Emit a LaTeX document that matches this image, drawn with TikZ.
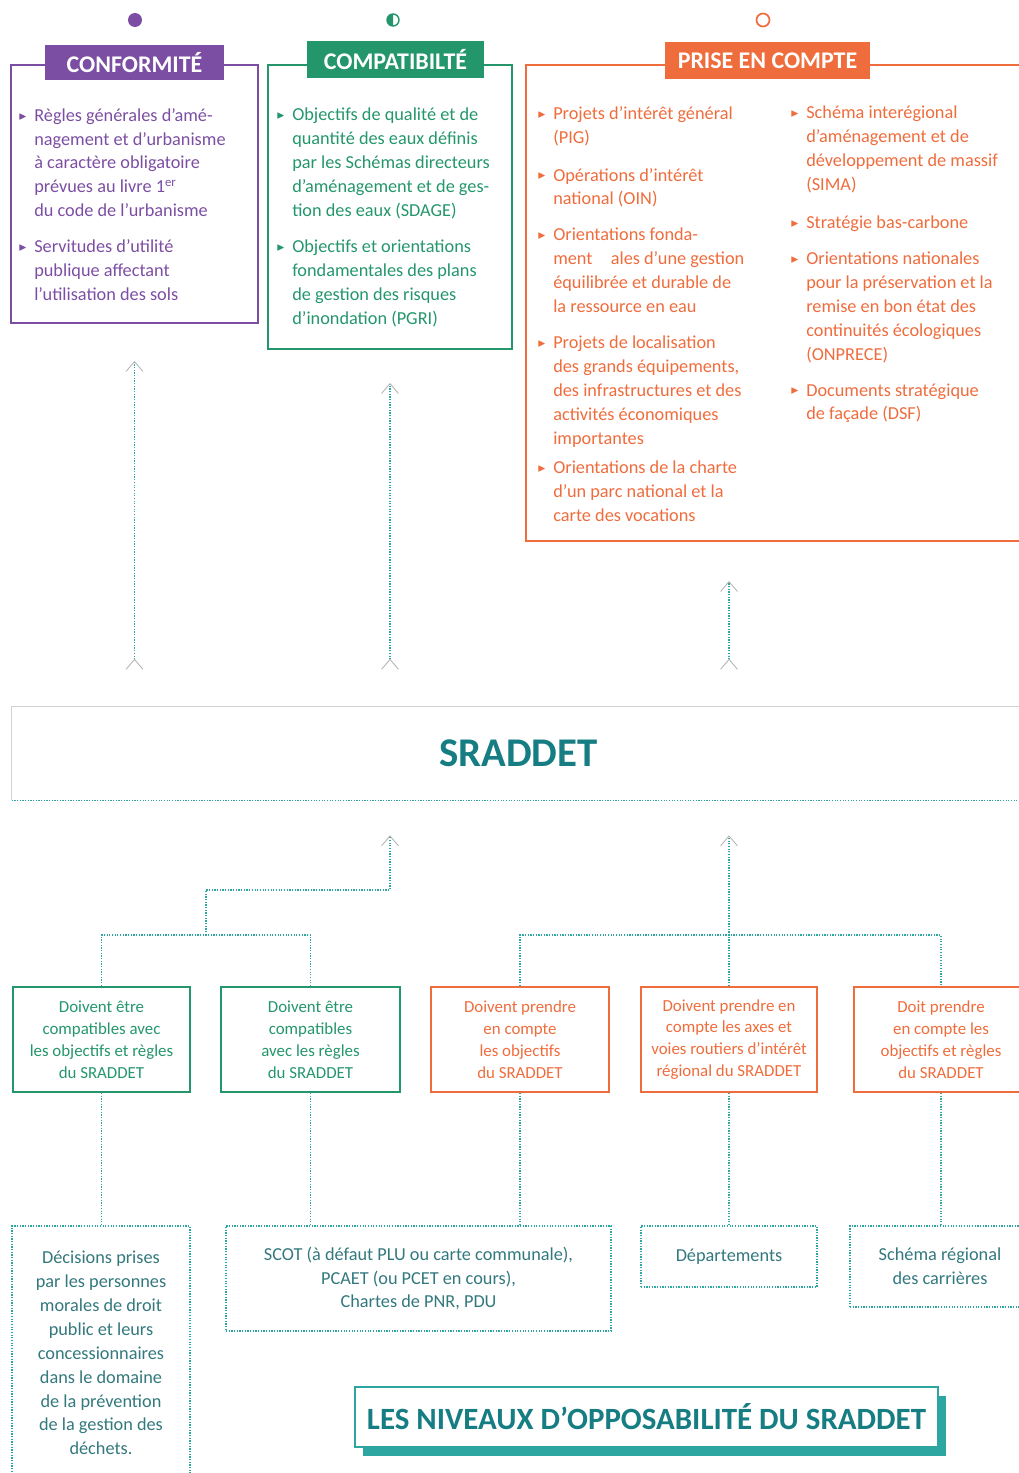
\documentclass[tikz,border=0pt]{standalone}
\usepackage{amssymb}
\usepackage{fontspec}
\setmainfont{Carlito}
\usetikzlibrary{arrows.meta,shadows}

\definecolor{conforme}{RGB}{124,78,163}
\definecolor{compatible}{RGB}{36,150,108}
\definecolor{prise}{RGB}{239,108,60}
\definecolor{sarcelle}{RGB}{45,165,160}
\definecolor{sraddet}{RGB}{22,125,130}
\definecolor{encre}{RGB}{50,120,125}

\newcommand{\puce}{\makebox[0pt][r]{\raisebox{1.5pt}{\fontsize{7}{7}\selectfont$\blacktriangleright$}\hspace{5pt}}}

\begin{document}
\begin{tikzpicture}[x=0.025cm, y=-0.025cm,
  boite/.style={draw=#1, line width=1.3pt},
  entete/.style={fill=#1, text=white, inner sep=0pt, font=\fontsize{17}{17}\selectfont\bfseries},
  liste/.style={text=#1, inner sep=0pt, anchor=north west, align=left, font=\fontsize{13}{17}\selectfont},
  consigne/.style={draw=#1, text=#1, line width=1.3pt, align=center, inner sep=0pt, minimum height=2.625cm, font=\fontsize{12}{15.6}\selectfont},
  niveau/.style={draw=sarcelle, densely dotted, line width=0.9pt, text=encre, align=center, inner sep=0pt, font=\fontsize{13}{17}\selectfont},
  lien/.style={draw=sarcelle, densely dotted, line width=0.9pt},
  monte/.style={lien, -{Straight Barb[color=gray!60, length=7pt, width=12pt, line width=0.6pt]}},
  fleche/.style={lien, {Straight Barb[color=gray!60, reversed, length=7pt, width=12pt, line width=0.6pt]}-{Straight Barb[color=gray!60, length=7pt, width=12pt, line width=0.6pt]}}
]
  \useasboundingbox (0,0) rectangle (1019,1473);
  \clip (0,0) rectangle (1019,1473);

  % Pictogrammes des trois niveaux
  \fill[conforme] (135,20) circle[radius=7];
  \draw[compatible, line width=1pt] (393,20) circle[radius=6];
  \fill[compatible] (393,26) arc[start angle=90, end angle=270, radius=6] -- cycle;
  \draw[prise, line width=1.2pt] (763,20) circle[radius=6.5];

  % Conformite
  \node[boite=conforme, minimum width=6.175cm, minimum height=6.45cm] (conf) at (134.5,194) {};
  \node[entete=conforme, minimum width=4.475cm, minimum height=0.875cm] (conf-tete) at (134.5,62.5) {CONFORMITÉ};
  \node[liste=conforme] (conf-txt) at (34,108) {\puce Règles générales d’amé-\\nagement et d’urbanisme\\à caractère obligatoire\\prévues au livre 1\textsuperscript{er}\\du code de l’urbanisme\\[8.5pt]\puce Servitudes d’utilité\\publique affectant\\l’utilisation des sols};

  % Compatibilite
  \node[boite=compatible, minimum width=6.1cm, minimum height=7.1cm] (compa) at (390,207) {};
  \node[entete=compatible, minimum width=4.425cm, minimum height=0.925cm] (compa-tete) at (395.5,59.5) {COMPATIBILTÉ};
  \node[liste=compatible] (compa-txt) at (292,108) {\puce Objectifs de qualité et de\\quantité des eaux définis\\par les Schémas directeurs\\d’aménagement et de ges-\\tion des eaux (SDAGE)\\[8.5pt]\puce Objectifs et orientations\\fondamentales des plans\\de gestion des risques\\d’inondation (PGRI)};

  % Prise en compte
  \node[boite=prise, minimum width=12.475cm, minimum height=11.9cm] (prise) at (775.5,303) {};
  \node[entete=prise, minimum width=5.125cm, minimum height=0.925cm] (prise-tete) at (767.5,60.5) {PRISE EN COMPTE};
  \node[liste=prise] (prise-gauche) at (553,106) {\puce Projets d’intérêt général\\(PIG)\\[10pt]\puce Opérations d’intérêt\\national (OIN)\\[8.5pt]\puce Orientations fonda-\\ment\hspace{1em}ales d’une gestion\\équilibrée et durable de\\la ressource en eau\\[8.5pt]\puce Projets de localisation\\des grands équipements,\\des infrastructures et des\\activités économiques\\importantes\\[4.3pt]\puce Orientations de la charte\\d’un parc national et la\\carte des vocations};
  \node[liste=prise] (prise-droite) at (806,106) {\puce Schéma interégional\\d’aménagement et de\\développement de massif\\(SIMA)\\[10pt]\puce Stratégie bas-carbone\\[8.5pt]\puce Orientations nationales\\pour la préservation et la\\remise en bon état des\\continuités écologiques\\(ONPRECE)\\[8.5pt]\puce Documents stratégique\\de façade (DSF)};

  % SRADDET
  \node[minimum width=25.325cm, minimum height=2.325cm, text=sraddet, font=\fontsize{29}{29}\selectfont\bfseries] (sraddet) at (518.5,753.5) {SRADDET};
  \draw[gray!35, line width=0.8pt] (sraddet.south west) -- (sraddet.north west) -- (sraddet.north east);
  \draw[lien] (sraddet.south west) -- (sraddet.south east);

  % Consignes
  \node[consigne=compatible, minimum width=4.425cm] (g1) at (101.5,1039.5) {Doivent être\\compatibles avec\\les objectifs et règles\\du SRADDET};
  \node[consigne=compatible, minimum width=4.475cm] (g2) at (310.5,1039.5) {Doivent être\\compatibles\\avec les règles\\du SRADDET};
  \node[consigne=prise, minimum width=4.45cm] (o1) at (520,1039.5) {Doivent prendre\\en compte\\les objectifs\\du SRADDET};
  \node[consigne=prise, minimum width=4.4cm] (o2) at (729,1039.5) {Doivent prendre en\\compte les axes et\\voies routiers d’intérêt\\régional du SRADDET};
  \node[consigne=prise, minimum width=4.35cm] (o3) at (941,1039.5) {Doit prendre\\en compte les\\objectifs et règles\\du SRADDET};

  % Documents concernes
  \node[niveau, minimum width=4.45cm, minimum height=6.35cm] (b1) at (101,1353) {Décisions prises\\par les personnes\\morales de droit\\public et leurs\\concessionnaires\\dans le domaine\\de la prévention\\de la gestion des\\déchets.};
  \node[niveau, minimum width=9.625cm, minimum height=2.625cm] (b2) at (418.5,1278.5) {SCOT (à défaut PLU ou carte communale),\\PCAET (ou PCET en cours),\\Chartes de PNR, PDU};
  \node[niveau, minimum width=4.4cm, minimum height=1.525cm] (b3) at (729,1256.5) {Départements};
  \node[niveau, minimum width=4.5cm, minimum height=2.025cm] (b4) at (940,1266.5) {Schéma régional\\des carrières};

  % Fleches vers les niveaux superieurs
  \draw[fleche, shorten <=0.925cm, shorten >=0.925cm] (sraddet.north -| conf.south) -- (conf.south);
  \draw[fleche, shorten <=0.925cm, shorten >=0.825cm] (sraddet.north -| compa.south) -- (compa.south);
  \draw[fleche, shorten <=0.925cm, shorten >=0.975cm] (sraddet.north -| o2.north) -- (prise.south -| o2.north);

  % Liaisons vers le SRADDET
  \coordinate (jg) at (206,935);
  \draw[lien] (g1.north) |- (jg) -| (g2.north);
  \draw[monte, shorten >=0.875cm] (jg) -- ++(0,-45) -| (sraddet.south -| compa.south);
  \draw[lien] (o1.north) |- (o2.north |- jg) -| (o3.north);
  \draw[monte, shorten >=0.875cm] (o2.north) -- (sraddet.south -| o2.north);

  % Liaisons vers les documents
  \draw[lien] (g1.south) -- (g1.south |- b1.north);
  \draw[lien] (g2.south) -- (g2.south |- b2.north);
  \draw[lien] (o1.south) -- (o1.south |- b2.north);
  \draw[lien] (o2.south) -- (o2.south |- b3.north);
  \draw[lien] (o3.south) -- (o3.south |- b4.north);

  % Titre
  \node[draw=sarcelle, line width=1.5pt, fill=white, minimum width=14.575cm, minimum height=1.5cm, text=sraddet, font=\fontsize{22}{22}\selectfont\bfseries, drop shadow={shadow xshift=0.2cm, shadow yshift=-0.225cm, fill=sarcelle, opacity=1}] (titre) at (646.5,1417) {LES NIVEAUX D’OPPOSABILITÉ DU SRADDET};
\end{tikzpicture}
\end{document}
